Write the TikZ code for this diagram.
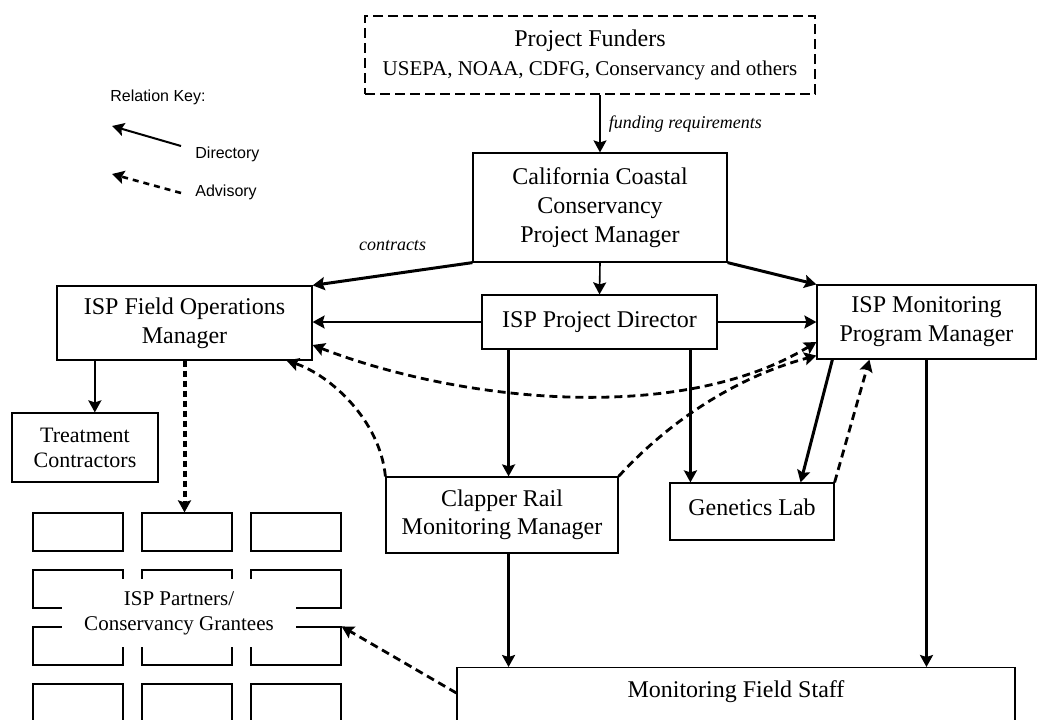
\documentclass[tikz,border=0pt]{standalone}
\usepackage{fontspec}
\setmainfont{Liberation Serif}
\setsansfont{Liberation Sans}
\usetikzlibrary{arrows.meta, positioning, calc}

\begin{document}
\begin{tikzpicture}[
  x=0.5pt, y=-0.5pt,
  >={Stealth[length=6pt, width=6.5pt, inset=1pt]},
  box/.style={draw, line width=0.6pt, align=center, inner sep=2pt, font=\fontsize{12}{14.5}\selectfont},
  cell/.style={draw, line width=0.6pt, minimum width=45pt, minimum height=19pt, inner sep=0pt},
  arrow/.style={->, line width=1.1pt},
  heavy/.style={->, line width=1.5pt},
  light/.style={->, line width=0.8pt},
  advisory/.style={->, line width=1.4pt, dash pattern=on 4pt off 2.5pt},
  tag/.style={font=\itshape\fontsize{9}{11}\selectfont, inner sep=1pt},
  keytext/.style={font=\sffamily\fontsize{8}{10}\selectfont, inner sep=0pt, anchor=west}
]
\useasboundingbox (0,0) rectangle (1039,719);
\clip (0,0) rectangle (1039,719);

\node[box, minimum width=225pt, minimum height=39pt, line width=1pt, dash pattern=on 5pt off 2.5pt] (funders) at (590,55) {Project Funders\\{\fontsize{10.5}{13}\selectfont USEPA, NOAA, CDFG, Conservancy and others}};
\node[box, minimum width=127pt, minimum height=54.5pt] (ccc) at (600,207.5) {California Coastal\\Conservancy\\Project Manager};
\node[box, minimum width=117.5pt, minimum height=27pt, text depth=2pt] (director) at (599.5,322) {ISP Project Director};
\node[box, minimum width=127.5pt, minimum height=37pt] (fieldops) at (184.5,323) {ISP Field Operations\\Manager};
\node[box, minimum width=109.5pt, minimum height=37pt] (monitoring) at (926.5,322) {ISP Monitoring\\Program Manager};
\node[box, minimum width=73pt, minimum height=34.5pt, font=\fontsize{11}{12.5}\selectfont] (treat) at (85,447.5) {Treatment\\Contractors};
\node[box, minimum width=116pt, minimum height=38pt, font=\fontsize{12}{14}\selectfont] (clapper) at (502,515) {Clapper Rail\\Monitoring Manager};
\node[box, minimum width=82pt, minimum height=28.5pt, text depth=4pt] (genetics) at (752,511.5) {Genetics Lab};
\node[draw, line width=0.6pt, anchor=north, minimum width=279pt, inner sep=4pt, text height=11pt, text depth=40pt, font=\fontsize{12}{14.5}\selectfont] (staff) at (736,667) {Monitoring Field Staff};

\foreach \r/\y in {1/532, 2/589, 3/646, 4/703}
  \foreach \c/\x in {1/78, 2/187, 3/296}
    \node[cell] (p-\r-\c) at (\x,\y) {};
\node[fill=white, minimum width=117pt, minimum height=34pt, align=center, font=\fontsize{10.5}{12.5}\selectfont] (partners) at (179,613) {ISP Partners/\\Conservancy Grantees};

\node[keytext] (keytitle) at (110,97) {Relation Key:};
\coordinate (kd) at (181,146);
\coordinate (kdtip) at (112,126);
\node[keytext] (keydir) at (195,154) {Directory};
\coordinate (ka) at (181,193);
\coordinate (katip) at (112,174);
\node[keytext] (keyadv) at (195,192) {Advisory};
\draw[arrow, line width=1pt] (kd) -- (kdtip);
\draw[advisory, line width=1.3pt, dash pattern=on 3pt off 2.5pt] (ka) -- (katip);

\draw[light] (ccc.north |- funders.south) -- node[tag, right=3pt] {funding requirements} (ccc.north);
\draw[light] (ccc.south) -- (director.north);
\draw[heavy] (ccc.south west) -- node[tag, above=10pt] {contracts} (fieldops.north east);
\draw[heavy] (ccc.south east) -- (monitoring.north west);
\draw[arrow] (director.west) -- (director.west -| fieldops.east);
\draw[arrow] (director.east) -- (director.east -| monitoring.west);

\coordinate (dl) at ($(director.south west)!0.115!(director.south east)$);
\coordinate (dr) at ($(director.south west)!0.885!(director.south east)$);
\draw[arrow] (dl) -- (dl |- clapper.north);
\draw[heavy] (dr) -- (dr |- genetics.north);
\draw[arrow] (dl |- clapper.south) -- (dl |- staff.north);
\draw[heavy] (monitoring.south) -- (monitoring.south |- staff.north);
\draw[heavy] ([xshift=8pt]monitoring.south west) -- ([xshift=-17pt]genetics.north east);
\draw[advisory] (genetics.north east) -- ([xshift=26.5pt]monitoring.south west);

\coordinate (fl) at ($(fieldops.south west)!0.15!(fieldops.south east)$);
\draw[arrow] (fl) -- (fl |- treat.north);
\draw[advisory, line width=2pt, dash pattern=on 3pt off 2pt] (fieldops.south) -- (fieldops.south |- p-1-2.north);

\draw[advisory, <->] ([yshift=-11pt]fieldops.east) .. controls (460,402) and (680,425) .. ([yshift=-10pt]monitoring.west);
\draw[advisory] (clapper.north west) .. controls (380,420) and (330,375) .. ([xshift=-13pt]fieldops.south east);
\draw[advisory] (clapper.north east) .. controls (672,418) and (740,376) .. ([yshift=2pt]monitoring.south west);
\draw[advisory] ([yshift=-13pt]staff.north west) -- (p-3-3.north east);

\end{tikzpicture}
\end{document}
